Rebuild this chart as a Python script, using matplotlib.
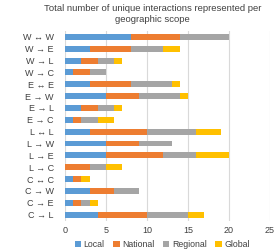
import matplotlib.pyplot as plt
import numpy as np

plt.rcParams["font.family"] = ["Liberation Sans", "DejaVu Sans"]

# %%
scopes = [
    "W ↔ W", "W → E", "W → L", "W → C",
    "E ↔ E", "E → W", "E → L", "E → C",
    "L ↔ L", "L → W", "L → E", "L → C",
    "C ↔ C", "C → W", "C → E", "C → L",
]
local = [8, 3, 2, 1, 3, 5, 2, 1, 3, 5, 5, 0, 1, 3, 1, 4]
national = [6, 5, 2, 2, 5, 4, 2, 1, 7, 4, 7, 3, 1, 3, 1, 6]
regional = [6, 4, 2, 2, 5, 5, 2, 2, 6, 4, 4, 2, 0, 3, 1, 5]
global_ = [0, 2, 1, 0, 1, 1, 1, 2, 3, 0, 4, 2, 1, 0, 1, 2]

series = {
    "Local": (local, "#5B9BD5"),
    "National": (national, "#ED7D31"),
    "Regional": (regional, "#A5A5A5"),
    "Global": (global_, "#FFC000"),
}

# %%
fig = plt.figure(figsize=(2.75, 2.52), dpi=100)
ax = fig.add_axes([0.236, 0.125, 0.746, 0.752])

y = np.arange(len(scopes))
left = np.zeros(len(scopes))
for name, (vals, color) in series.items():
    ax.barh(y, vals, left=left, height=0.5, color=color, label=name, zorder=2)
    left += np.array(vals)

ax.set_ylim(len(scopes) - 0.5, -0.5)
ax.set_yticks(y)
ax.set_yticklabels(scopes, fontsize=6.5, color="#404040")
ax.set_xlim(0, 25)
ax.set_xticks(range(0, 26, 5))
ax.tick_params(axis="x", labelsize=6.5, colors="#404040", length=0, pad=4)
ax.tick_params(axis="y", length=0, pad=8)
ax.grid(axis="x", color="#d9d9d9", linewidth=0.8, zorder=0)
for s in ax.spines.values():
    s.set_visible(False)

fig.text(
    0.555, 0.985,
    "Total number of unique interactions represented per\ngeographic scope",
    ha="center", va="top", fontsize=6.8, color="#404040", linespacing=1.3,
)
fig.legend(
    loc="lower center", bbox_to_anchor=(0.59, -0.01), ncol=4, frameon=False,
    fontsize=6.3, handlelength=0.7, handleheight=0.7, handletextpad=0.3,
    columnspacing=1.0, labelcolor="#404040", borderpad=0.1,
)
fig.savefig("out.png", dpi=100)
